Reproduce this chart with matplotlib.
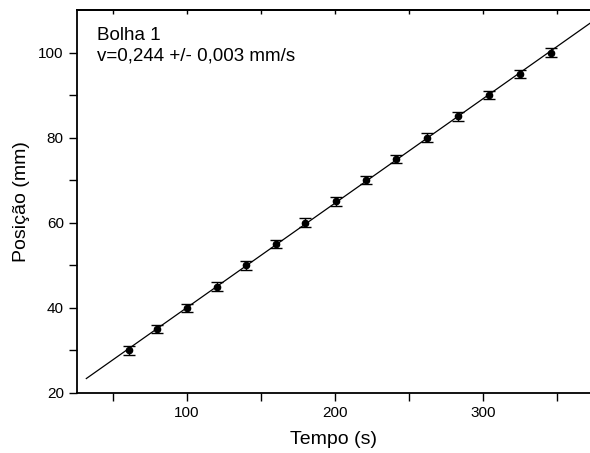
import matplotlib

matplotlib.use('Agg')
import matplotlib.pyplot as plt
import numpy as np

plt.rcParams['font.family'] = ['Liberation Sans', 'DejaVu Sans']

# dados
tempo = [61, 80, 100, 120, 140, 160, 180, 201, 221, 241, 262, 283, 304, 325, 346]
posicao = [30, 35, 40, 45, 50, 55, 60, 65, 70, 75, 80, 85, 90, 95, 100]
erro = [1, 1, 1, 1, 1, 1, 1, 1, 1, 1, 1, 1, 1, 1, 1]

# ajuste linear
coef = np.polyfit(tempo, posicao, 1)
x_fit = np.array([32, 375])
y_fit = np.polyval(coef, x_fit)

fig = plt.figure(figsize=(5.9, 4.53), dpi=100)
ax = fig.add_axes([0.1305, 0.1325, 0.8695, 0.8455])

ax.plot(x_fit, y_fit, color='black', lw=0.9)
ax.errorbar(tempo, posicao, yerr=erro, fmt='o', color='black', ms=4.5,
            ecolor='black', elinewidth=1, capsize=4, capthick=1)

ax.set_xlim(25.7, 372.3)
ax.set_ylim(20, 110)
ax.set_xticks([100, 200, 300])
ax.set_xticks([50, 150, 250, 350], minor=True)
ax.set_yticks([20, 40, 60, 80, 100])
ax.set_yticks([30, 50, 70, 90], minor=True)

ax.spines['right'].set_visible(False)
for s in ['left', 'bottom', 'top']:
    ax.spines[s].set_linewidth(1.3)

ax.tick_params(which='both', direction='out', length=6, width=1, labelsize=11)

# eixo de cima: só marcas pequenas para dentro
top = ax.secondary_xaxis('top')
top.set_xticks([100, 200, 300])
top.set_xticks([50, 150, 250, 350], minor=True)
top.tick_params(which='both', direction='in', length=3, width=1,
                labeltop=False)
top.spines['top'].set_linewidth(1.3)

ax.set_xlabel('Tempo (s)', fontsize=14, labelpad=8)
ax.set_ylabel('Posição (mm)', fontsize=14, labelpad=6)

ax.text(0.039, 0.955, 'Bolha 1\nv=0,244 +/- 0,003 mm/s', transform=ax.transAxes,
        fontsize=13.5, va='top', ha='left', linespacing=1.25)

fig.savefig('out.png', dpi=100)
